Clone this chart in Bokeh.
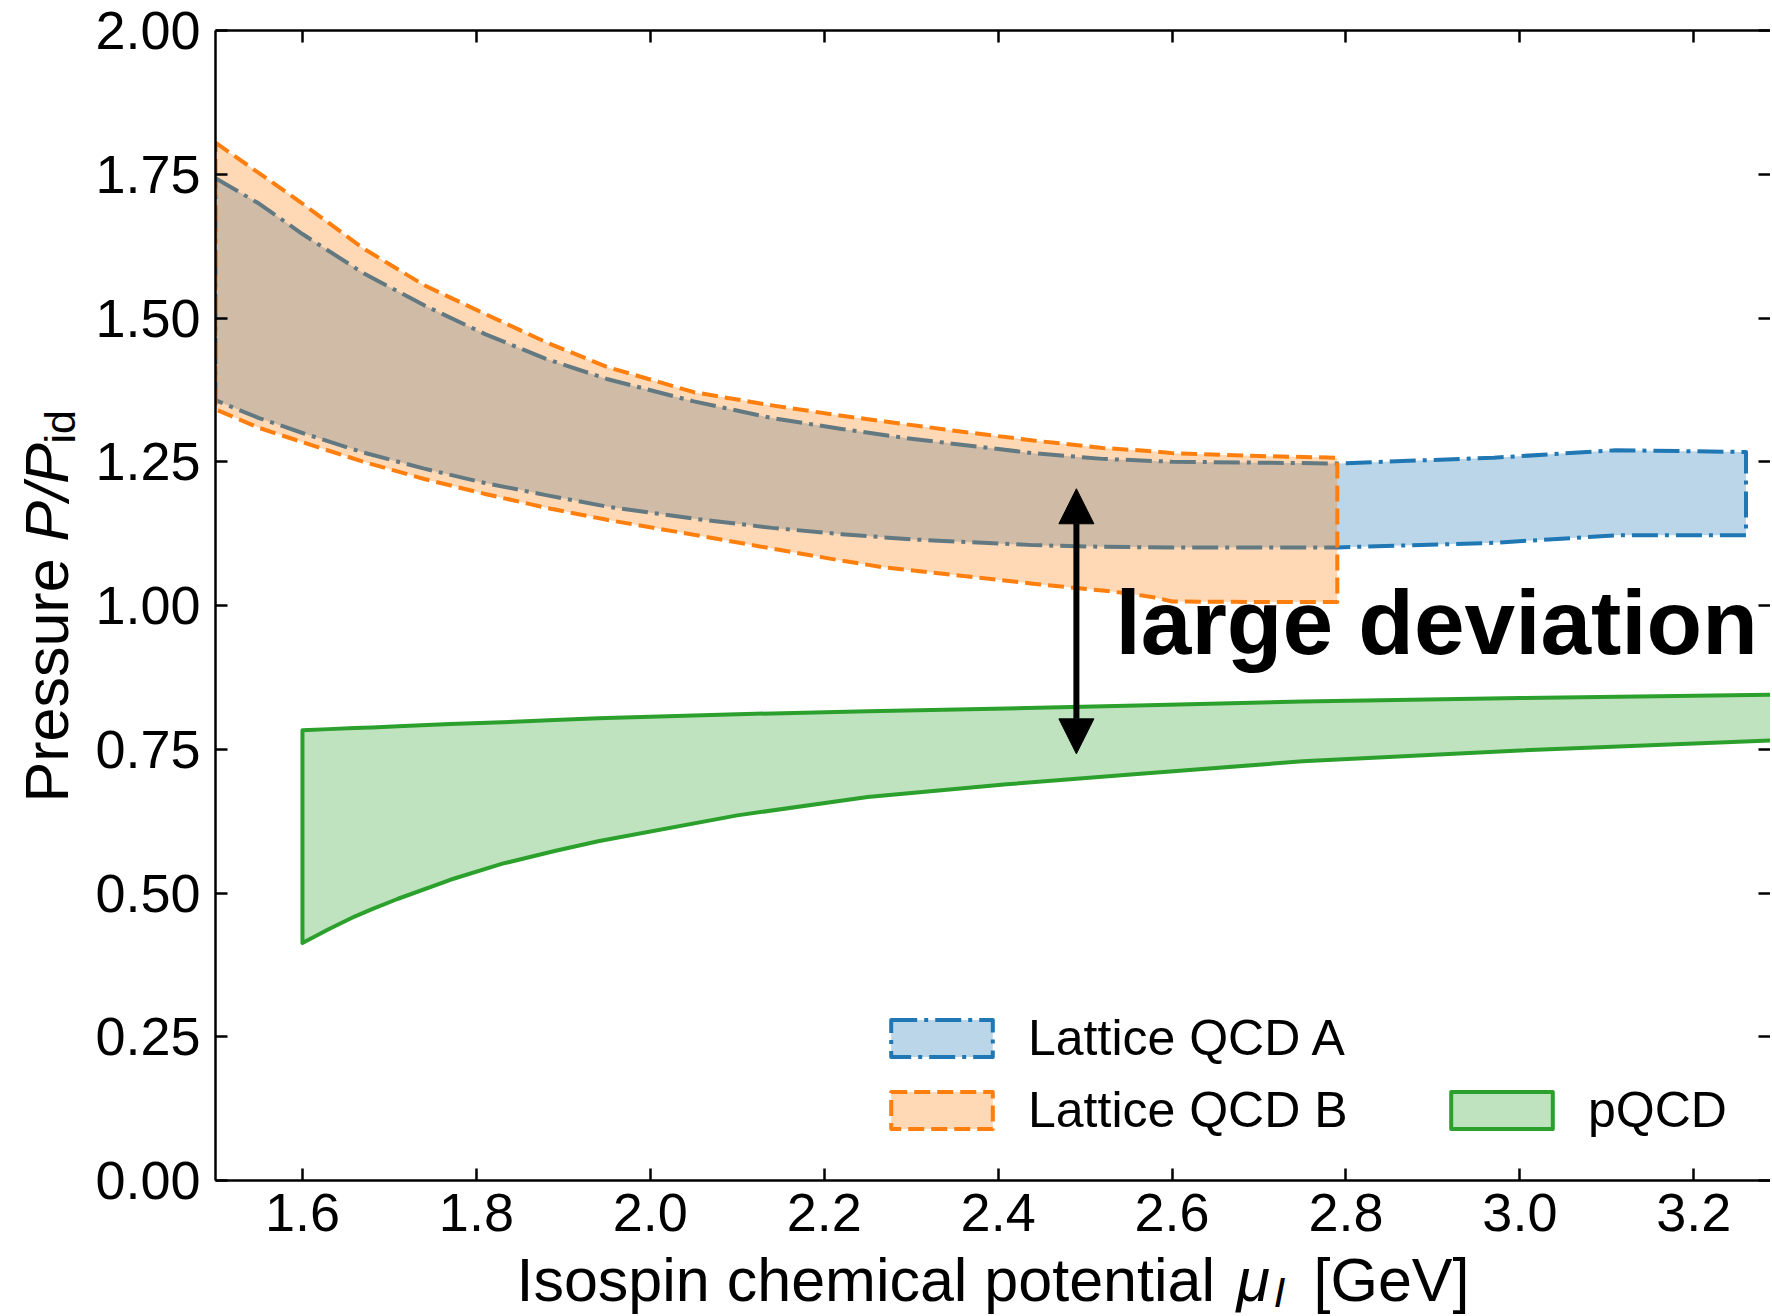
import numpy as np
from bokeh.plotting import figure
from bokeh.layouts import row, column
from bokeh.models import (Range1d, LinearAxis, FixedTicker, Legend, LegendItem,
                          Arrow, NormalHead)
from bokeh.embed import file_html
from bokeh.resources import INLINE
from bokeh.core.properties import value

# ---------------- data ----------------
latA_x     = [1.50, 1.55, 1.60, 1.67, 1.74, 1.81, 1.88, 1.95, 2.05, 2.14, 2.22, 2.30, 2.44, 2.52, 2.60, 2.79, 2.97, 3.11, 3.26]
latA_upper = [1.743, 1.699, 1.646, 1.578, 1.522, 1.472, 1.429, 1.394, 1.355, 1.326, 1.307, 1.290, 1.265, 1.255, 1.250, 1.247, 1.257, 1.270, 1.267]
latA_lower = [1.357, 1.326, 1.300, 1.266, 1.238, 1.213, 1.192, 1.172, 1.151, 1.135, 1.124, 1.115, 1.105, 1.102, 1.101, 1.101, 1.109, 1.122, 1.122]

latB_x     = [1.50, 1.55, 1.60, 1.67, 1.74, 1.81, 1.88, 1.95, 2.05, 2.14, 2.22, 2.27, 2.35, 2.44, 2.52, 2.55, 2.58, 2.60, 2.70, 2.79]
latB_upper = [1.805, 1.752, 1.699, 1.621, 1.557, 1.507, 1.458, 1.415, 1.371, 1.348, 1.330, 1.320, 1.304, 1.287, 1.274, 1.271, 1.268, 1.265, 1.260, 1.257]
latB_lower = [1.341, 1.309, 1.284, 1.250, 1.220, 1.194, 1.170, 1.149, 1.123, 1.099, 1.078, 1.066, 1.053, 1.038, 1.026, 1.021, 1.014, 1.007, 1.006, 1.006]

pqcd_x     = [1.60, 1.63, 1.66, 1.68, 1.71, 1.77, 1.83, 1.89, 1.94, 2.10, 2.25, 2.41, 2.56, 2.75, 3.00, 3.30]
pqcd_upper = [0.783, 0.785, 0.787, 0.788, 0.790, 0.794, 0.797, 0.801, 0.804, 0.811, 0.816, 0.821, 0.826, 0.833, 0.839, 0.845]
pqcd_lower = [0.413, 0.437, 0.459, 0.472, 0.490, 0.523, 0.551, 0.573, 0.590, 0.635, 0.667, 0.689, 0.707, 0.729, 0.748, 0.766]

series_names = ["Lattice QCD A", "Lattice QCD B", "pQCD"]

x_ticks = [1.6, 1.8, 2.0, 2.2, 2.4, 2.6, 2.8, 3.0, 3.2]
x_tick_labels = ["1.6", "1.8", "2.0", "2.2", "2.4", "2.6", "2.8", "3.0", "3.2"]
y_ticks = [0.0, 0.25, 0.5, 0.75, 1.0, 1.25, 1.5, 1.75, 2.0]
y_tick_labels = ["0.00", "0.25", "0.50", "0.75", "1.00", "1.25", "1.50", "1.75", "2.00"]

arrow_x = 2.49
arrow_y = [0.742, 1.203]
annot_text = "large deviation"
annot_x = 2.535
annot_y = 0.971

# ---------------- styling / layout ----------------
FONT = "Liberation Sans"
BLUE, ORANGE, GREEN = "#1f77b4", "#ff7f0e", "#2ca02c"

YLAB_W = 90                      # strip left of the plot holding the y title
BORDER_L, BORDER_T, BORDER_B = 125, 30, 80
FRAME_W, FRAME_H = 1555, 1150
OVERLAP = 30                     # x-title strip tucks under the plot's bottom border
XLAB_H = 56 + OVERLAP
MAIN_W = BORDER_L + FRAME_W
MAIN_H = BORDER_T + FRAME_H + BORDER_B
TOTAL_H = MAIN_H + XLAB_H - OVERLAP
XLAB_TOP = MAIN_H - OVERLAP       # page y of the strip's top edge
PX_PER_X = 869.6
x_start = 1.5
x_end = x_start + FRAME_W / PX_PER_X

p = figure(frame_width=FRAME_W, frame_height=FRAME_H,
           min_border_left=BORDER_L, min_border_right=0,
           min_border_top=BORDER_T, min_border_bottom=BORDER_B,
           x_range=Range1d(x_start, x_end), y_range=Range1d(0, 2),
           output_backend="svg", toolbar_location=None)
p.xgrid.visible = False
p.ygrid.visible = False
p.outline_line_color = None
p.background_fill_color = "white"
p.border_fill_color = "white"


def band(xs, up, lo):
    return list(xs) + list(xs)[::-1], list(up) + list(lo)[::-1]


ax, ay = band(latA_x, latA_upper, latA_lower)
bx, by = band(latB_x, latB_upper, latB_lower)
gx, gy = band(pqcd_x, pqcd_upper, pqcd_lower)

rA = p.patch(ax, ay, fill_color=BLUE, fill_alpha=0.3, line_color=BLUE,
             line_width=4, line_dash="26 7 4 7", line_join="round")
rB = p.patch(bx, by, fill_color=ORANGE, fill_alpha=0.3, line_color=ORANGE,
             line_width=4, line_dash="16 7", line_join="round")
rG = p.patch(gx, gy, fill_color=GREEN, fill_alpha=0.3, line_color=GREEN,
             line_width=4, line_join="round")

# arrow and annotation
head = dict(size=35, fill_color="black", line_color="black")
p.add_layout(Arrow(start=NormalHead(**head), end=NormalHead(**head),
                   x_start=arrow_x, y_start=arrow_y[0],
                   x_end=arrow_x, y_end=arrow_y[1],
                   line_width=6, line_color="black"))
p.text(x=[annot_x], y=[annot_y], text=[annot_text],
       text_font=value(FONT), text_font_size=value("91px"),
       text_font_style=value("bold"), text_color="black",
       text_align="left", text_baseline="alphabetic")

# axes
p.add_layout(LinearAxis(), "above")
p.add_layout(LinearAxis(), "right")
bottom_ax, left_ax, top_ax, right_ax = p.below[0], p.left[0], p.above[0], p.right[0]

for axis in (bottom_ax, left_ax, top_ax, right_ax):
    axis.minor_tick_line_color = None
    axis.major_tick_in = 12
    axis.major_tick_out = 0
    axis.major_tick_line_width = 2.5
    axis.major_tick_line_color = "black"
    axis.axis_line_width = 2.5
    axis.axis_line_color = "black"
    axis.major_label_text_font = FONT
    axis.major_label_text_font_size = "54px"
    axis.major_label_text_color = "black"

for axis in (bottom_ax, top_ax):
    axis.ticker = FixedTicker(ticks=x_ticks)
for axis in (left_ax, right_ax):
    axis.ticker = FixedTicker(ticks=y_ticks)

bottom_ax.major_label_overrides = {t: l for t, l in zip(x_ticks, x_tick_labels)}
left_ax.major_label_overrides = {t: l for t, l in zip(y_ticks, y_tick_labels)}
bottom_ax.major_label_standoff = 13
left_ax.major_label_standoff = 15

top_ax.major_label_overrides = {t: "" for t in x_ticks}
right_ax.major_label_overrides = {t: "" for t in y_ticks}
for axis in (top_ax, right_ax):
    axis.major_label_text_font_size = "0px"
    axis.major_label_standoff = 0
right_ax.axis_line_color = None

# legends
leg_common = dict(glyph_width=127, glyph_height=46, label_standoff=23,
                  spacing=14, padding=0, margin=0, border_line_color=None,
                  background_fill_alpha=0, label_text_font=FONT,
                  label_text_font_size="50px", label_text_color="black")
leg1 = Legend(items=[LegendItem(label=series_names[0], renderers=[rA]),
                     LegendItem(label=series_names[1], renderers=[rB])],
              location=(663, 41), **leg_common)
leg2 = Legend(items=[LegendItem(label=series_names[2], renderers=[rG])],
              location=(1223, 41), **leg_common)
p.add_layout(leg1, "center")
p.add_layout(leg2, "center")


# ---------- axis titles, in pixel-unit strips beside the plot ----------
def style_strip(f):
    f.xgrid.visible = False
    f.ygrid.visible = False
    f.outline_line_color = None
    f.background_fill_alpha = 0
    f.border_fill_alpha = 0
    return f


def put(f, x, y, txt, size, style="normal", angle=0.0):
    f.text(x=[x], y=[y], text=[txt], angle=angle,
           text_font=value(FONT), text_font_size=value(f"{size}px"),
           text_font_style=value(style), text_color="black",
           text_align="left", text_baseline="alphabetic")


SHIFT = 0.34  # baseline correction, in em

# y title strip (pixel coordinates, origin bottom-left of the strip)
yl = style_strip(figure(width=YLAB_W, height=TOTAL_H,
                        x_range=Range1d(0, YLAB_W), y_range=Range1d(0, TOTAL_H),
                        min_border=0, x_axis_location=None, y_axis_location=None,
                        output_backend="svg", toolbar_location=None))
rot = np.pi / 2
put(yl, 67 - SHIFT * 61, TOTAL_H - 802, "Pressure", 61, angle=rot)
put(yl, 67 - SHIFT * 61, TOTAL_H - 541, "P/P", 61, "italic", angle=rot)
put(yl, 74 - SHIFT * 43, TOTAL_H - 443, "id", 43, angle=rot)

# x title strip: frame lined up with the plot frame, x in pixels of the strip
xl = style_strip(figure(frame_width=FRAME_W, frame_height=XLAB_H,
                        min_border_left=BORDER_L, min_border_right=0,
                        min_border_top=0, min_border_bottom=0,
                        x_range=Range1d(BORDER_L, MAIN_W), y_range=Range1d(0, XLAB_H),
                        x_axis_location=None, y_axis_location=None,
                        output_backend="svg", toolbar_location=None))
xl.margin = (-OVERLAP, 0, 0, 0)
base = XLAB_TOP + XLAB_H - 1300   # baseline, measured up from the strip bottom
put(xl, 516 - YLAB_W, base + SHIFT * 61, "Isospin chemical potential", 61)
put(xl, 1236 - YLAB_W, base + SHIFT * 61, "μ", 61, "italic")
put(xl, 1273 - YLAB_W, base - 6 + SHIFT * 43, "I", 43, "italic")
put(xl, 1313 - YLAB_W, base + SHIFT * 61, "[GeV]", 61)

layout = row(yl, column(p, xl))
open("out.html", "w").write(file_html(layout, INLINE))
